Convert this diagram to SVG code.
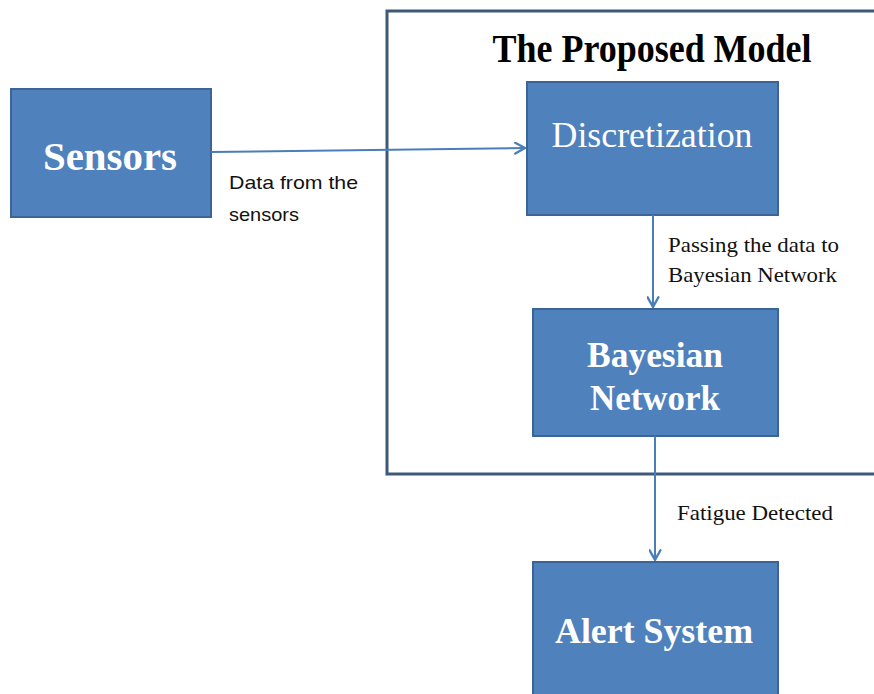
<svg xmlns="http://www.w3.org/2000/svg" width="874" height="694" viewBox="0 0 874 694">
  <defs>
    <marker id="chev" viewBox="0 0 12 12" refX="11" refY="6" markerWidth="13" markerHeight="13" markerUnits="userSpaceOnUse" orient="auto">
      <polyline points="2,1 11,6 2,11" fill="none" stroke="#4a7ebb" stroke-width="2.2" stroke-linejoin="round" stroke-linecap="round"/>
    </marker>
  </defs>
  <style>
    .box { fill: #4f81bd; stroke: #3b6596; stroke-width: 2; }
    .frame { fill: none; stroke: #3f5877; stroke-width: 3; }
    .wire { fill: none; stroke: #4a7ebb; stroke-width: 2; }
    .node-bold { font-family: "Liberation Serif", "Times New Roman", serif; font-weight: bold; fill: #ffffff; text-anchor: middle; }
    .node-reg { font-family: "Liberation Serif", "Times New Roman", serif; fill: #ffffff; text-anchor: middle; }
    .title { font-family: "Liberation Serif", "Times New Roman", serif; font-weight: bold; fill: #000000; text-anchor: middle; }
    .lbl-serif { font-family: "Liberation Serif", "Times New Roman", serif; fill: #111111; }
    .lbl-sans { font-family: "Liberation Sans", Arial, sans-serif; fill: #111111; }
  </style>

  <rect width="874" height="694" fill="#ffffff"/>

  <!-- container for the proposed model -->
  <g id="model-frame">
    <rect class="frame" x="387" y="11" width="500" height="463"/>
    <text class="title" x="652" y="62" font-size="40" textLength="319" lengthAdjust="spacingAndGlyphs">The Proposed Model</text>
  </g>

  <g id="sensors">
    <rect class="box" x="11" y="89" width="200" height="128"/>
    <text class="node-bold" x="110" y="170" font-size="41" textLength="134" lengthAdjust="spacingAndGlyphs">Sensors</text>
  </g>

  <g id="discretization">
    <rect class="box" x="527" y="82" width="251" height="133"/>
    <text class="node-reg" x="652" y="147" font-size="35" textLength="201" lengthAdjust="spacingAndGlyphs">Discretization</text>
  </g>

  <g id="bayesian-network">
    <rect class="box" x="533" y="309" width="245" height="127"/>
    <text class="node-bold" x="655" y="367" font-size="36" textLength="136" lengthAdjust="spacingAndGlyphs">Bayesian</text>
    <text class="node-bold" x="655" y="410" font-size="36" textLength="130" lengthAdjust="spacingAndGlyphs">Network</text>
  </g>

  <g id="alert-system">
    <rect class="box" x="533" y="562" width="245" height="140"/>
    <text class="node-bold" x="654" y="643" font-size="36" textLength="198" lengthAdjust="spacingAndGlyphs">Alert System</text>
  </g>

  <g id="connectors">
    <line class="wire" x1="211" y1="152" x2="525" y2="148" marker-end="url(#chev)"/>
    <line class="wire" x1="653" y1="215" x2="653" y2="307" marker-end="url(#chev)"/>
    <line class="wire" x1="655" y1="436" x2="655" y2="560" marker-end="url(#chev)"/>
    <text class="lbl-sans" x="229" y="189" font-size="19" textLength="129" lengthAdjust="spacingAndGlyphs">Data from the</text>
    <text class="lbl-sans" x="229" y="221" font-size="19" textLength="70" lengthAdjust="spacingAndGlyphs">sensors</text>
    <text class="lbl-serif" x="668" y="252" font-size="22" textLength="171" lengthAdjust="spacingAndGlyphs">Passing the data to</text>
    <text class="lbl-serif" x="668" y="282" font-size="22" textLength="169" lengthAdjust="spacingAndGlyphs">Bayesian Network</text>
    <text class="lbl-serif" x="677" y="520" font-size="22" textLength="156" lengthAdjust="spacingAndGlyphs">Fatigue Detected</text>
  </g>
</svg>
